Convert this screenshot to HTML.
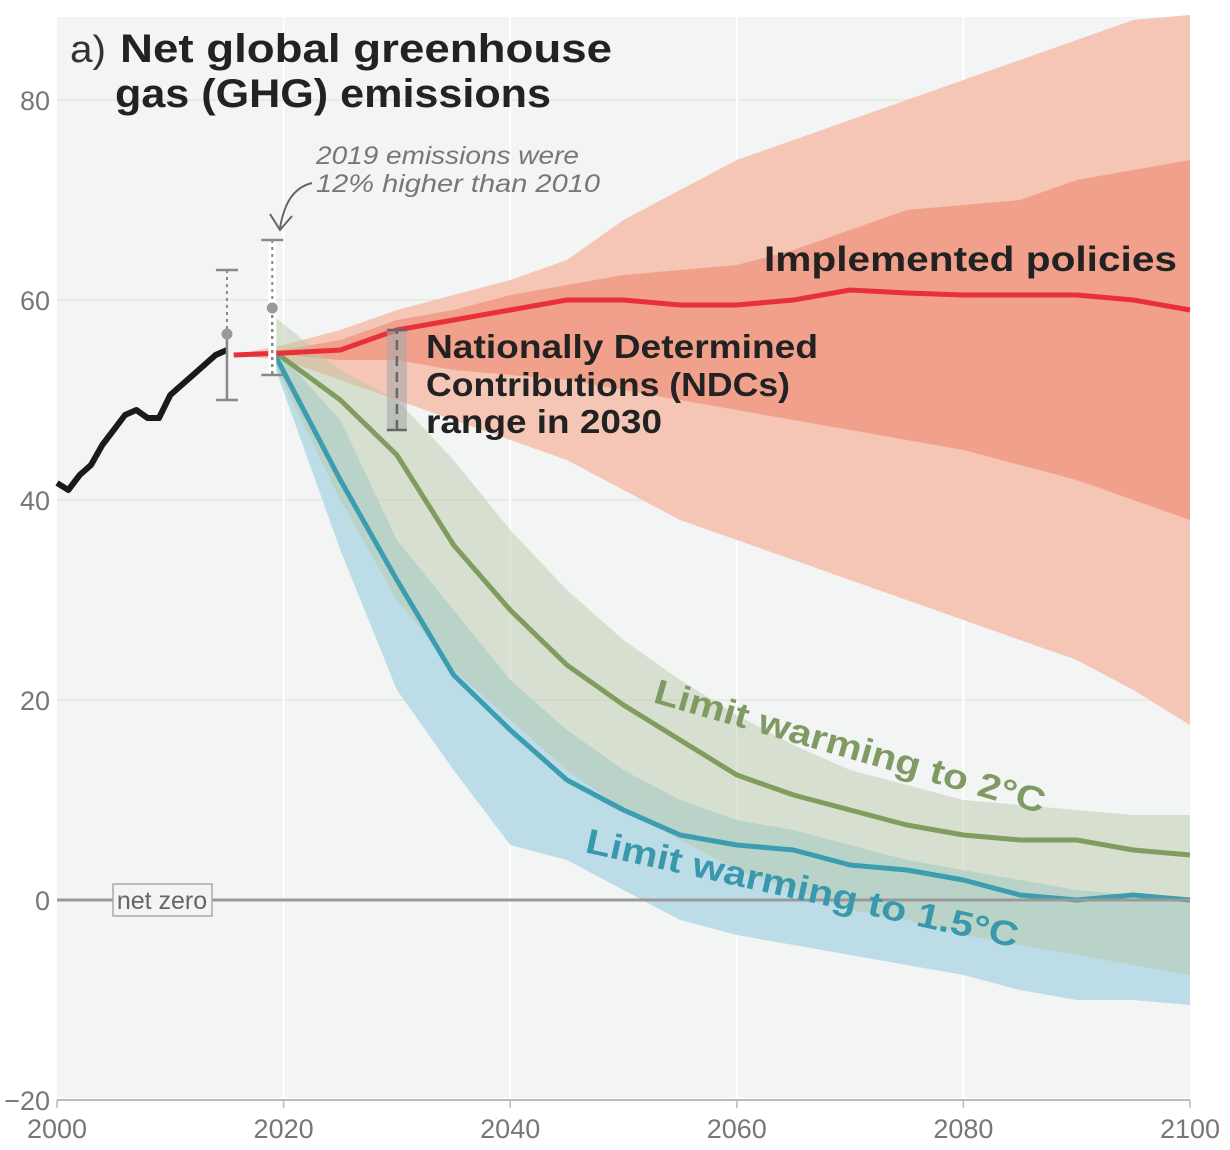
<!DOCTYPE html>
<html><head><meta charset="utf-8">
<style>
html,body{margin:0;padding:0;background:#fff;width:1230px;height:1150px;overflow:hidden}
svg{display:block;font-family:"Liberation Sans",sans-serif}
</style></head>
<body>
<svg id="chart" width="1230" height="1150" viewBox="0 0 1230 1150" xmlns="http://www.w3.org/2000/svg">
  <rect x="57" y="17" width="1133" height="1081" fill="#f3f4f4"/>
  <g id="grid"></g>
  <g id="bands"></g>
  <g id="lines"></g>
  <g id="axes"></g>
  <g id="labels">
    <text x="70" y="62" font-size="38" fill="#333" textLength="36" lengthAdjust="spacingAndGlyphs">a)</text>
    <text x="120" y="62" font-size="40" font-weight="bold" fill="#222" textLength="492" lengthAdjust="spacingAndGlyphs">Net global greenhouse</text>
    <text x="115" y="107" font-size="40" font-weight="bold" fill="#222" textLength="436" lengthAdjust="spacingAndGlyphs">gas (GHG) emissions</text>
    <text x="316" y="164" font-size="25" font-style="italic" fill="#777" textLength="263" lengthAdjust="spacingAndGlyphs">2019 emissions were</text>
    <text x="316" y="192" font-size="25" font-style="italic" fill="#777" textLength="284" lengthAdjust="spacingAndGlyphs">12% higher than 2010</text>
    <path d="M312,183 C292,188 284,205 280,228 M270,214 L280,230 L292,216" fill="none" stroke="#666" stroke-width="2"/>
    <text x="764" y="271" font-size="35" font-weight="bold" fill="#222" textLength="413" lengthAdjust="spacingAndGlyphs">Implemented policies</text>
    <text x="426" y="358" font-size="33" font-weight="bold" fill="#222" textLength="392" lengthAdjust="spacingAndGlyphs">Nationally Determined</text>
    <text x="426" y="396" font-size="33" font-weight="bold" fill="#222" textLength="364" lengthAdjust="spacingAndGlyphs">Contributions (NDCs)</text>
    <text x="426" y="433" font-size="33" font-weight="bold" fill="#222" textLength="236" lengthAdjust="spacingAndGlyphs">range in 2030</text>
    <text transform="translate(652,702) rotate(16)" font-size="35" font-weight="bold" fill="#7f9a62" textLength="405" lengthAdjust="spacingAndGlyphs">Limit warming to 2°C</text>
    <text transform="translate(584,852) rotate(12.5)" font-size="35" font-weight="bold" fill="#3a98ad" textLength="442" lengthAdjust="spacingAndGlyphs">Limit warming to 1.5°C</text>
  </g>
</svg>
<script>
const years = [2019,2025,2030,2035,2040,2045,2050,2055,2060,2065,2070,2075,2080,2085,2090,2095,2100];
const histYears = [2000,2001,2002,2003,2004,2005,2006,2007,2008,2009,2010,2011,2012,2013,2014,2015];
const histValues = [41.7,41,42.5,43.5,45.5,47,48.5,49,48.2,48.2,50.5,51.5,52.5,53.5,54.5,55];
const redYears = [2015.6,2020,2025,2030,2035,2040,2045,2050,2055,2060,2065,2070,2075,2080,2085,2090,2095,2100];
const redMedian = [54.5,54.7,55,57,58,59,60,60,59.5,59.5,60,61,60.7,60.5,60.5,60.5,60,59];
const redOuterHi = [54.5,55.5,57,59,60.5,62,64,68,71,74,76,78,80,82,84,86,88,88.5];
const redOuterLo = [54.5,54,52,50,48,46,44,41,38,36,34,32,30,28,26,24,21,17.5];
const redInnerHi = [54.5,55,56,58,59,60.5,61.5,62.5,63,63.5,65,67,69,69.5,70,72,73,74];
const redInnerLo = [54.5,54.5,54,54,53,52.5,52,51,50,49,48,47,46,45,43.5,42,40,38];
const greenMedian = [55,50,44.5,35.5,29,23.5,19.5,16,12.5,10.5,9,7.5,6.5,6,6,5,4.5];
const greenHi = [58.5,53,50,44,37,31,26,22,18.5,15.5,13,11.5,10,9.5,9,8.5,8.5];
const greenLo = [54,40,30,23,18,13,9,6,3,1,-1,-2,-3.5,-4.5,-5.5,-6.5,-7.5];
const blueMedian = [55,42,32,22.5,17,12,9,6.5,5.5,5,3.5,3,2,0.5,0,0.5,0];
const blueHi = [55.5,48,36,29,22,17,13,10,8,7,5.5,4,3,2,1,0.5,0];
const blueLo = [54,35,21,13,5.5,4,1,-2,-3.5,-4.5,-5.5,-6.5,-7.5,-9,-10,-10,-10.5];
const xTicks = [2000,2020,2040,2060,2080,2100];
const yTicks = [-20,0,20,40,60,80];
const bar2015 = [2015,50,56.6,63];
const bar2019 = [2019,52.5,59.2,66];
const ndcRange = [2030,47,57];

const NS="http://www.w3.org/2000/svg";
const X = y => 57 + (y-2000)*11.33;
const Y = v => 900 - v*10;
function el(parent,tag,attrs){const e=document.createElementNS(NS,tag);for(const k in attrs)e.setAttribute(k,attrs[k]);parent.appendChild(e);return e;}
function linePath(xs,vs){return xs.map((x,i)=>(i?'L':'M')+X(x).toFixed(1)+','+Y(vs[i]).toFixed(1)).join('');}
function bandPath(xs,hi,lo){let d=linePath(xs,hi);for(let i=xs.length-1;i>=0;i--)d+='L'+X(xs[i]).toFixed(1)+','+Y(lo[i]).toFixed(1);return d+'Z';}

const grid=document.getElementById('grid');
yTicks.forEach(t=>{ if(t===0||t===-20) return;
  const g=el(grid,'line',{x1:57,x2:1190,y1:Y(t),y2:Y(t),stroke:'#e4e6e2','stroke-width':1.5});
  
  
});
xTicks.forEach(t=>{ if(t===2000||t===2100) return;
  const g=el(grid,'line',{x1:X(t),x2:X(t),y1:17,y2:1098,stroke:'#ffffff','stroke-width':2});
  
  
});

const bands=document.getElementById('bands');
let b;
b=el(bands,'path',{d:bandPath(redYears,redOuterHi,redOuterLo),fill:'#f5c6b5'});


b=el(bands,'path',{d:bandPath(redYears,redInnerHi,redInnerLo),fill:'#f1a18b'});


b=el(bands,'path',{d:bandPath(years,blueHi,blueLo),fill:'#bcdde7'});


b=el(bands,'path',{d:bandPath(years,greenHi,greenLo),fill:'#b5c7a3','fill-opacity':0.45});



const axes=document.getElementById('axes');
let a=el(axes,'line',{x1:57,x2:1190,y1:Y(0),y2:Y(0),stroke:'#9a9a9a','stroke-width':3});


a=el(axes,'rect',{x:113,y:884,width:99,height:32,fill:'#f3f4f4',stroke:'#aaa','stroke-width':1.5});


a=el(axes,'text',{x:162,y:909,'font-size':25,fill:'#666','text-anchor':'middle'});a.textContent='net zero';


a=el(axes,'line',{x1:57,x2:1190,y1:Y(-20),y2:Y(-20),stroke:'#bbb','stroke-width':2});


xTicks.forEach(t=>{
  const tk=el(axes,'line',{x1:X(t),x2:X(t),y1:Y(-20),y2:Y(-20)+8,stroke:'#bbb','stroke-width':1.5});
  
  
  const tx=el(axes,'text',{x:X(t),y:1138,'font-size':27,fill:'#777','text-anchor':'middle'});tx.textContent=t;
  
  
});
yTicks.forEach(t=>{
  const tx=el(axes,'text',{x:50,y:Y(t)+10,'font-size':27,fill:'#777','text-anchor':'end'});tx.textContent=(t<0?'−':'')+Math.abs(t);
  
  
});

const lines=document.getElementById('lines');
let l;
l=el(lines,'path',{d:linePath(years,greenMedian),fill:'none',stroke:'#7f9d5e','stroke-width':5,'stroke-linejoin':'round'});


l=el(lines,'path',{d:linePath(years,blueMedian),fill:'none',stroke:'#3c9db1','stroke-width':5,'stroke-linejoin':'round'});


l=el(lines,'path',{d:linePath(redYears,redMedian),fill:'none',stroke:'#e8303a','stroke-width':5,'stroke-linejoin':'round'});


l=el(lines,'path',{d:linePath(histYears,histValues),fill:'none',stroke:'#1a1a1a','stroke-width':6,'stroke-linejoin':'round'});



const nx=X(ndcRange[0]);
l=el(lines,'rect',{x:nx-10,y:Y(ndcRange[2]),width:20,height:Y(ndcRange[1])-Y(ndcRange[2]),fill:'#a8a8a8','fill-opacity':0.6});


l=el(lines,'path',{d:`M${nx-10},${Y(ndcRange[1])}L${nx+10},${Y(ndcRange[1])}M${nx-10},${Y(ndcRange[2])}L${nx+10},${Y(ndcRange[2])}`,stroke:'#666','stroke-width':2.5,fill:'none'});


l=el(lines,'line',{x1:nx,x2:nx,y1:Y(ndcRange[1]),y2:Y(ndcRange[2]),stroke:'#666','stroke-width':2.5,'stroke-dasharray':'10,6'});



function errBar(b,name,whiteLine){
  const x=X(b[0]);
  const g=el(lines,'g',{});
  
  
  if(whiteLine) el(g,'rect',{x:x-4,y:Y(b[3]),width:8,height:Y(b[1])-Y(b[3]),fill:'#fff'});
  el(g,'line',{x1:x,x2:x,y1:Y(b[3]),y2:Y(b[2]),stroke:'#888','stroke-width':2,'stroke-dasharray':'3,4'});
  el(g,'line',{x1:x,x2:x,y1:Y(b[2]),y2:Y(b[1]),stroke:'#888','stroke-width':2.5,'stroke-dasharray':whiteLine?'3,4':'none'});
  el(g,'line',{x1:x-11,x2:x+11,y1:Y(b[3]),y2:Y(b[3]),stroke:'#888','stroke-width':2.5});
  el(g,'line',{x1:x-11,x2:x+11,y1:Y(b[1]),y2:Y(b[1]),stroke:'#888','stroke-width':2.5});
  el(g,'circle',{cx:x,cy:Y(b[2]),r:5.5,fill:'#999'});
}
errBar(bar2015,'error-bar-2015',false);
errBar(bar2019,'error-bar-2019',true);
</script>
</body></html>
